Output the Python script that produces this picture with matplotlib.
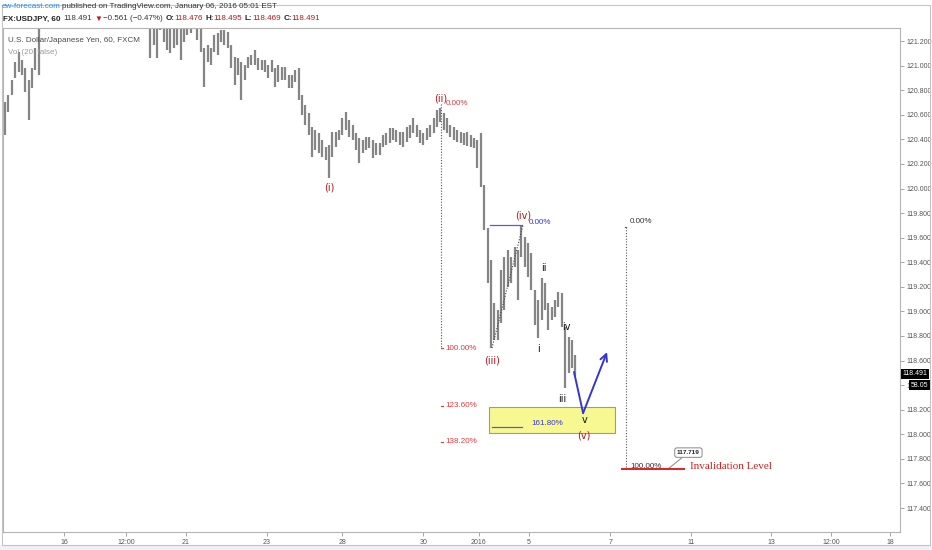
import matplotlib
matplotlib.use("Agg")
import matplotlib.pyplot as plt
import matplotlib.transforms as mtransforms
from matplotlib.patches import Rectangle

# USDJPY, 2-hour bars (bars 11-57 run above the visible range)
highs = [
    120.704, 120.761, 120.883, 121.029, 121.110, 121.045, 120.980, 120.883, 120.980, 121.143,
    121.37, 121.55, 121.70, 121.80, 121.75, 121.90, 121.85, 121.95, 122.05, 122.10,
    122.00, 121.90, 122.15, 122.20, 122.05, 121.95, 121.85, 121.80, 121.75, 121.70,
    121.78, 121.72, 121.65, 121.60, 121.68, 121.62, 121.58, 121.55, 121.60, 121.58,
    121.55, 121.52, 121.50, 121.45, 121.42, 121.45, 121.40, 121.42, 121.40, 121.38,
    121.40, 121.42, 121.40, 121.42, 121.45, 121.45, 121.42, 121.40, 121.330, 121.143,
    121.167, 121.143, 121.249, 121.265, 121.290, 121.290, 121.273, 121.167, 121.070, 121.062,
    121.029, 121.005, 121.070, 121.086, 121.127, 121.062, 121.045, 121.045, 121.005, 121.045,
    120.980, 121.005, 120.988, 120.988, 120.923, 120.923, 120.964, 120.980, 120.761, 120.679,
    120.614, 120.500, 120.476, 120.451, 120.394, 120.337, 120.354, 120.460, 120.460, 120.476,
    120.573, 120.622, 120.557, 120.517, 120.451, 120.411, 120.394, 120.419, 120.419, 120.394,
    120.370, 120.370, 120.435, 120.451, 120.492, 120.492, 120.476, 120.460, 120.460, 120.500,
    120.517, 120.573, 120.517, 120.476, 120.451, 120.492, 120.517, 120.573, 120.639, 120.655,
    120.614, 120.573, 120.517, 120.500, 120.476, 120.460, 120.451, 120.460, 120.435, 120.411,
    120.394, 120.451, 120.028, 119.678, 119.418, 119.068, 119.011, 119.337, 119.442, 119.499,
    119.442, 119.524, 119.499, 119.695, 119.605, 119.556, 119.475, 119.174, 119.093, 119.272,
    119.231, 119.068, 119.036, 119.093, 119.158, 119.149, 118.873, 118.791, 118.767, 118.645,
]
lows = [
    120.435, 120.622, 120.761, 120.899, 120.948, 120.923, 120.785, 120.557, 120.818, 120.964,
    120.923, 121.32, 121.45, 121.55, 121.50, 121.60, 121.62, 121.70, 121.78, 121.85,
    121.70, 121.60, 121.80, 121.90, 121.75, 121.68, 121.58, 121.55, 121.50, 121.48,
    121.52, 121.50, 121.42, 121.40, 121.45, 121.40, 121.38, 121.36, 121.40, 121.37,
    121.35, 121.34, 121.33, 121.062, 121.167, 121.062, 121.290, 121.192, 121.127, 121.102,
    121.143, 121.167, 121.045, 121.192, 121.249, 121.265, 121.322, 121.208, 121.110, 120.826,
    121.029, 121.005, 121.110, 121.086, 121.192, 121.167, 121.143, 120.980, 120.842, 120.923,
    120.720, 120.883, 120.980, 121.005, 121.005, 120.964, 120.964, 120.948, 120.899, 120.948,
    120.826, 120.866, 120.883, 120.883, 120.818, 120.818, 120.866, 120.720, 120.598, 120.517,
    120.435, 120.256, 120.313, 120.289, 120.256, 120.232, 120.085, 120.256, 120.337, 120.394,
    120.435, 120.476, 120.419, 120.394, 120.313, 120.207, 120.289, 120.313, 120.329, 120.248,
    120.272, 120.272, 120.337, 120.354, 120.370, 120.394, 120.378, 120.354, 120.337, 120.378,
    120.411, 120.451, 120.419, 120.370, 120.354, 120.394, 120.419, 120.451, 120.500, 120.541,
    120.476, 120.451, 120.419, 120.394, 120.378, 120.370, 120.354, 120.346, 120.337, 120.329,
    120.167, 120.012, 119.662, 119.231, 118.702, 118.767, 118.767, 118.905, 119.011, 119.198,
    119.231, 119.361, 119.093, 119.442, 119.361, 119.280, 119.174, 118.889, 118.783, 118.930,
    119.011, 118.848, 118.930, 118.954, 119.036, 118.873, 118.376, 118.499, 118.539, 118.474,
]
last_close = 118.491
last_volume = "58.05"

day_ticks = [17.5, 35.8, 53.6, 77.6, 99.9, 123.9, 140.4, 155.3, 179.3, 203.3, 227.0, 244.7, 262.2]
day_labels = ["16", "12:00", "21", "23", "28", "30", "2016", "5", "7", "11", "13", "12:00", "18"]
price_ticks = [117.4, 117.6, 117.8, 118.0, 118.2, 118.4, 118.6, 118.8, 119.0,
               119.2, 119.4, 119.6, 119.8, 120.0, 120.2, 120.4, 120.6, 120.8, 121.0, 121.2]

# Elliott wave counts
wave_labels = ["(i)", "(ii)", "(iii)", "(iv)", "(v)"]
wave_x = [96.0, 129.2, 144.3, 153.5, 171.6]
wave_y = [120.012, 120.736, 118.604, 119.784, 117.994]
sub_labels = ["i", "ii", "iii", "iv", "v"]
sub_x = [158.2, 159.7, 165.0, 166.2, 171.6]
sub_y = [118.694, 119.353, 118.287, 118.873, 118.116]

# fib extension from (ii) high to (iii) low
fib_levels = [0.0, 100.0, 123.6, 138.2]
fib_x = 129.2
fib_top, fib_bottom = 120.69, 118.70
# blue fib from (iv)
blue_top, blue_ext = 119.70, 118.059
# invalidation fib
inval_x = 184.0
inval_top, invalidation = 119.69, 117.719
# target zone and projected path
zone = (143.4, 180.7, 118.01, 118.222)
proj_x = [168.6, 171.3, 178.4]
proj_y = [118.507, 118.173, 118.669]
link_x = [144.3, 153.5]
link_y = [118.702, 119.703]

W, H = 932, 550
SANS = ["Liberation Sans", "DejaVu Sans"]
DARKRED = "#b0161c"
RED = "#e0393e"
BLUE = "#3535d0"

fig = plt.figure(figsize=(W / 100, H / 100), dpi=100)
fig.patch.set_facecolor("white")
fig.patches.append(Rectangle((0, 0), 1, 5 / H, transform=fig.transFigure,
                             fc="#eef1f5", ec="none"))
fig.patches.append(Rectangle((2 / W, 5 / H), 928 / W, 540 / H, transform=fig.transFigure,
                             fc="none", ec="#c4c4c4", lw=0.8))

ax = fig.add_axes([3 / W, 18 / H, 897 / W, 504 / H])
ax.set_xlim(-0.6, 265.2)
ax.set_ylim(117.205, 121.306)

x = list(range(len(highs)))
ax.vlines(x, lows, highs, color="#858585", lw=1.6, zorder=2)

# axes style
for s in ax.spines.values():
    s.set_color("#b4b4b4")
    s.set_linewidth(0.8)
ax.yaxis.tick_right()
ax.set_yticks(price_ticks)
ax.set_yticklabels(["%.3f" % p for p in price_ticks])
ax.set_xticks(day_ticks)
ax.set_xticklabels(day_labels)
ax.tick_params(axis="both", direction="out", length=3, width=0.6, color="#999999",
               labelsize=5, labelcolor="#555555", pad=2)
for t in ax.get_xticklabels() + ax.get_yticklabels():
    t.set_family(SANS)

# last price / volume boxes
bt = mtransforms.blended_transform_factory(ax.transAxes, ax.transData)
ax.text(1.003, last_close, "118.491", transform=bt, ha="left", va="center", color="white",
        fontsize=5, family=SANS, bbox=dict(boxstyle="square,pad=0.25", fc="black", ec="none"),
        zorder=10, clip_on=False)
ax.text(1.012, 118.40, last_volume, transform=bt, ha="left", va="center", color="white",
        fontsize=5, family=SANS, bbox=dict(boxstyle="square,pad=0.25", fc="black", ec="none"),
        zorder=10, clip_on=False)

# chart titles inside the pane
ax.text(5 / 897, 1 - 13 / 504, "U.S. Dollar/Japanese Yen, 60, FXCM", transform=ax.transAxes,
        fontsize=5.8, color="#4a4a4a", family=SANS, va="center")
ax.text(5 / 897, 1 - 24 / 504, "Vol (20, false)", transform=ax.transAxes,
        fontsize=5.8, color="#9a9a9a", family=SANS, va="center")

# fib from (ii)
ax.plot([fib_x, fib_x], [fib_top, fib_bottom], ls=(0, (1, 1.5)), color="#555555", lw=0.8, zorder=3)
for lvl in fib_levels:
    p = fib_top - (fib_top - fib_bottom) * lvl / 100.0
    ax.text(fib_x + 1.4, p, "%.2f%%" % lvl, fontsize=5.8, color=RED, family=SANS, va="center", zorder=5)
    if lvl > 0:
        ax.plot([fib_x, fib_x + 0.5], [p, p], color=RED, lw=0.8)

# blue fib from (iv)
ax.plot([143.7, 153.2], [blue_top, blue_top], color="#5a5ad8", lw=0.9, zorder=4)
ax.text(155.3, blue_top + 0.02, "0.00%", fontsize=5.8, color=BLUE, family=SANS, va="center", zorder=5)

# target zone
x0, x1, y0, y1 = zone
ax.add_patch(Rectangle((x0, y0), x1 - x0, y1 - y0, fc="#f8f892", ec="#9a9a9a", lw=0.8, zorder=3))
ax.plot([144.3, 153.2], [blue_ext, blue_ext], color="#5a5ad8", lw=0.9, zorder=4)
ax.text(156.0, blue_ext + 0.025, "161.80%", fontsize=5.8, color=BLUE, family=SANS, va="center", zorder=5)

# dotted link (iii) -> (iv)
ax.plot(link_x, link_y, ls=(0, (1, 1.5)), color="#444444", lw=0.8, zorder=3)

# wave labels
for s, wx, wy in zip(wave_labels, wave_x, wave_y):
    ax.text(wx, wy, s, fontsize=7, color=DARKRED, ha="center", va="center", zorder=6)
for s, wx, wy in zip(sub_labels, sub_x, sub_y):
    ax.text(wx, wy, s, fontsize=7, color="#111111", ha="center", va="center", zorder=6)

# projected path
ax.plot(proj_x[:2], proj_y[:2], color=BLUE, lw=1.4, zorder=7, solid_capstyle="round")
ax.annotate("", xy=(proj_x[2], proj_y[2]), xytext=(proj_x[1], proj_y[1]),
            arrowprops=dict(arrowstyle="->,head_length=0.5,head_width=0.25", color=BLUE, lw=1.4,
                            shrinkA=0, shrinkB=0), zorder=7)

# invalidation fib
ax.plot([inval_x, inval_x], [inval_top, invalidation], ls=(0, (1, 1.5)), color="#555555", lw=0.8)
ax.plot([inval_x - 0.4, inval_x], [inval_top, inval_top], color="#555555", lw=0.8)
ax.text(inval_x + 1.2, inval_top + 0.04, "0.00%", fontsize=5.8, color="#333333", family=SANS, va="center")
ax.text(inval_x + 1.2, invalidation + 0.02, "100.00%", fontsize=5.8, color="#333333", family=SANS, va="center")
ax.plot([182.8, 201.2], [invalidation, invalidation], color="#e02020", lw=1.4, zorder=5)
ax.text(203.0, invalidation + 0.015, "Invalidation Level", fontsize=8, color="#d42020",
        family=["Liberation Serif", "DejaVu Serif"], va="center")
ax.annotate("117.719", xy=(196.5, invalidation), xytext=(202.5, 117.851), fontsize=4.6,
            fontweight="bold", color="#222222", family=SANS, ha="center", va="center",
            bbox=dict(boxstyle="round,pad=0.35", fc="white", ec="#888888", lw=0.7),
            arrowprops=dict(arrowstyle="-", color="#888888", lw=0.7, shrinkA=0, shrinkB=0))

# header rows
fig.canvas.draw()
r = fig.canvas.get_renderer()


def text_row(pieces, px, py, size):
    for s, color, weight, gap in pieces:
        t = fig.text(px / W, 1 - py / H, s, color=color, fontweight=weight, fontsize=size,
                     family=SANS, va="center", ha="left")
        px += t.get_window_extent(renderer=r).width + gap


text_row([("ew-forecast.com", "#2d8be0", "normal", 1.5),
          ("published on TradingView.com, January 06, 2016 05:01 EST", "#333333", "normal", 0)],
         2, 7, 5.8)
text_row([("FX:USDJPY, 60", "#222222", "bold", 3),
          ("118.491", "#333333", "normal", 2),
          ("\u25bc", "#c0161c", "normal", 1),
          ("\u22120.561 (\u22120.47%)", "#333333", "normal", 2.5),
          ("O:", "#222222", "bold", 0), ("118.476", DARKRED, "normal", 2.5),
          ("H:", "#222222", "bold", 0), ("118.495", DARKRED, "normal", 2.5),
          ("L:", "#222222", "bold", 0), ("118.469", DARKRED, "normal", 2.5),
          ("C:", "#222222", "bold", 0), ("118.491", DARKRED, "normal", 0)],
         3, 19, 5.8)

fig.savefig("out.png", dpi=100)
